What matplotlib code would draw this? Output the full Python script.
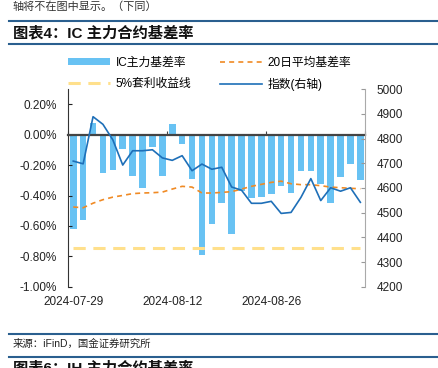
import numpy as np
import pandas as pd
import matplotlib
matplotlib.use('Agg')
import matplotlib.pyplot as plt
from matplotlib.lines import Line2D
from matplotlib.patches import Patch
from matplotlib.ticker import FuncFormatter, FixedLocator

plt.rcParams['font.family'] = ['Liberation Sans', 'Noto Sans CJK SC']
plt.rcParams['axes.unicode_minus'] = False

# data (30 trading days)
dates = pd.bdate_range('2024-07-29', periods=30)
basis = [-0.62, -0.56, 0.08, -0.25, -0.23, -0.09, -0.27, -0.35, -0.08, -0.27,
         0.07, -0.06, -0.29, -0.79, -0.59, -0.45, -0.655, -0.37, -0.415, -0.41,
         -0.39, -0.34, -0.38, -0.235, -0.235, -0.325, -0.45, -0.28, -0.195, -0.295]
basis_ma20 = [-0.475, -0.48, -0.45, -0.427, -0.41, -0.399, -0.387, -0.383, -0.381, -0.377,
              -0.357, -0.339, -0.344, -0.383, -0.383, -0.379, -0.374, -0.357, -0.339, -0.326,
              -0.313, -0.305, -0.322, -0.328, -0.328, -0.335, -0.344, -0.348, -0.352, -0.355]
arb_line = -0.745
index_close = [4709, 4698, 4889, 4858, 4795, 4693, 4751, 4751, 4755, 4722,
               4712, 4731, 4670, 4697, 4676, 4684, 4604, 4591, 4538, 4538,
               4546, 4497, 4501, 4562, 4638, 4549, 4601, 4587, 4601, 4542]
date_ticks = [0, 10, 20]

W, H = 439, 368
fig = plt.figure(figsize=(W / 100, H / 100), dpi=100)

# header / footer from the report page
fig.text(13 / W, 1 - 7 / H, '轴将不在图中显示。（下同）', fontsize=8, color='#333333', va='center')
fig.add_artist(Line2D([9 / W, 1], [1 - 21 / H] * 2, color='#2a5f8f', lw=1.5))
fig.text(13 / W, 1 - 33 / H, '图表4：IC 主力合约基差率', fontsize=11, fontweight='bold',
         color='#111111', va='center')
fig.add_artist(Line2D([9 / W, 1], [1 - 44 / H] * 2, color='#2a5f8f', lw=1.5))
fig.add_artist(Line2D([9 / W, 1], [1 - 334 / H] * 2, color='#2a5f8f', lw=1.5))
fig.text(13 / W, 1 - 344 / H, '来源：iFinD，国金证券研究所', fontsize=7.5, color='#222222', va='center')
fig.add_artist(Line2D([9 / W, 1], [1 - 357 / H] * 2, color='#2a5f8f', lw=1.5))
fig.text(13 / W, 1 - 368 / H, '图表6：IH 主力合约基差率', fontsize=11, fontweight='bold',
         color='#111111', va='center')

left, right = 68.3 / W, 365.3 / W
bottom, top = 1 - 286.7 / H, 1 - 89.3 / H
ax = fig.add_axes([left, bottom, right - left, top - bottom])

x = np.arange(len(basis))
ax.bar(x, basis, width=0.66, color='#68c2f3', zorder=1)
ax.plot(x, basis_ma20, color='#f08a24', lw=1.2, ls=(0, (3, 2.5)), zorder=3)
ax.plot([x[0], x[-1]], [arb_line, arb_line], color='#ffe08c', lw=2.2, ls=(0, (4, 2.5)), zorder=3)

ax.set_xlim(-0.5, len(basis) - 0.5)
ax.set_ylim(-1.0, 0.3)
ax.yaxis.set_major_locator(FixedLocator(np.round(np.arange(-1.0, 0.21, 0.2), 2)))
ax.yaxis.set_major_formatter(FuncFormatter(lambda v, p: '%.2f%%' % (round(v, 2) + 0.0)))
ax.tick_params(axis='y', direction='in', length=3, pad=8, labelsize=8.5, colors='#222222')

ax.spines['top'].set_visible(False)
ax.spines['right'].set_visible(False)
ax.spines['left'].set_color('#333333')
ax.spines['left'].set_bounds(-1.0, 0.3)
ax.spines['bottom'].set_position(('data', 0))
ax.spines['bottom'].set_color('#444444')
ax.spines['bottom'].set_linewidth(1.6)
ax.spines['bottom'].set_zorder(4)
ax.set_xticks([-0.5, 9.5, 19.5, 29.5])
ax.set_xticklabels([])
ax.tick_params(axis='x', direction='in', length=3, color='#444444')

sec = ax.secondary_xaxis('bottom')
sec.spines['bottom'].set_visible(False)
sec.set_xticks(date_ticks)
sec.set_xticklabels([dates[i].strftime('%Y-%m-%d') for i in date_ticks])
sec.tick_params(length=0, pad=7, labelsize=8.5, colors='#222222')

ax2 = ax.twinx()
ax2.plot(x, index_close, color='#1e6fb8', lw=1.2, zorder=5)
ax2.set_ylim(4200, 5000)
ax2.set_yticks(np.arange(4200, 5001, 100))
ax2.tick_params(axis='y', direction='in', length=3, pad=8, labelsize=8.5, colors='#222222')
ax2.tick_params(axis='y', color='#999999')
for s in ['top', 'bottom', 'left']:
    ax2.spines[s].set_visible(False)
ax2.spines['right'].set_color('#aaaaaa')

handles = [
    Patch(facecolor='#68c2f3', edgecolor='none', label='IC主力基差率'),
    Line2D([], [], color='#ffe08c', lw=2.2, ls=(0, (4, 2.5)), label='5%套利收益线'),
    Line2D([], [], color='#f08a24', lw=1.2, ls=(0, (3, 2.5)), label='20日平均基差率'),
    Line2D([], [], color='#1e6fb8', lw=1.2, label='指数(右轴)'),
]
fig.legend(handles=handles, ncol=2, loc='center left', bbox_to_anchor=(62 / W, 1 - 74 / H),
           frameon=False, fontsize=8.5, handlelength=3.6, handleheight=0.6,
           handletextpad=0.45, columnspacing=2.4, labelspacing=0.8, borderpad=0)

fig.savefig('out.png', dpi=100)
